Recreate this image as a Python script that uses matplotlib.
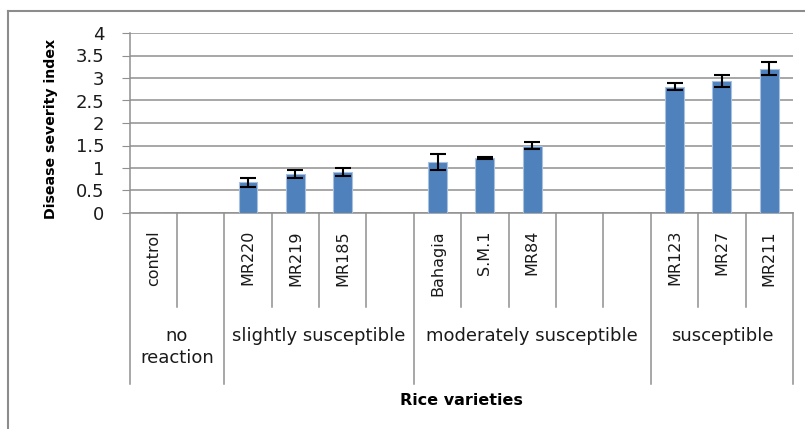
import numpy as np
import matplotlib.pyplot as plt
from matplotlib.lines import Line2D

plt.rcParams['font.family'] = ['DejaVu Sans']

# one slot per variety, empty slots separate the reaction groups
varieties = ['control', '', 'MR220', 'MR219', 'MR185', '',
             'Bahagia', 'S.M.1', 'MR84', '', '',
             'MR123', 'MR27', 'MR211']
severity = [0, np.nan, 0.68, 0.86, 0.91, np.nan,
            1.13, 1.22, 1.50, np.nan, np.nan,
            2.81, 2.94, 3.21]
errors = [0, np.nan, 0.10, 0.09, 0.09, np.nan,
          0.18, 0.02, 0.08, np.nan, np.nan,
          0.075, 0.13, 0.145]

groups = ['no\nreaction', 'slightly susceptible', 'moderately susceptible', 'susceptible']
group_edges = [0, 2, 6, 11, 14]

W, H = 805, 429
fig = plt.figure(figsize=(W / 100, H / 100), dpi=100)
ax = fig.add_axes([129.5 / W, 1 - 213 / H, (793 - 129.5) / W, 180 / H])

grey = '#909090'
x = np.arange(len(varieties)) + 0.5
sev = np.array(severity, dtype=float)
err = np.array(errors, dtype=float)

ax.bar(x, np.nan_to_num(sev), width=0.4, color='#4f81bd',
       edgecolor='#a9c1de', linewidth=0.8, zorder=3)
m = err > 0
ax.errorbar(x[m], sev[m], yerr=err[m], fmt='none', ecolor='black',
            elinewidth=1.5, capsize=5.5, capthick=1.5, zorder=4)

ax.set_xlim(0, len(varieties))
ax.set_ylim(0, 4)
ax.set_yticks(np.arange(0, 4.01, 0.5))
ax.set_yticklabels(['0', '0.5', '1', '1.5', '2', '2.5', '3', '3.5', '4'])
ax.tick_params(axis='y', direction='out', length=6, color=grey,
               labelsize=13, pad=12, labelcolor='#1a1a1a')
ax.set_xticks([])
ax.yaxis.grid(True, color=grey, linewidth=1.1)
ax.set_axisbelow(True)
for s in ['top', 'right']:
    ax.spines[s].set_visible(False)
for s in ['left', 'bottom']:
    ax.spines[s].set_color(grey)
    ax.spines[s].set_linewidth(1.1)

# two-level category axis below the plot
tr = ax.get_xaxis_transform()
for b in range(len(varieties) + 1):
    depth = -0.95 if b in group_edges else -0.522
    ax.add_line(Line2D([b, b], [0, depth], transform=tr, color=grey,
                       linewidth=1.1, clip_on=False))
for xi, name in zip(x, varieties):
    if name:
        ax.text(xi, -0.095, name, transform=tr, rotation=90, ha='center',
                va='top', fontsize=11.5, color='#1a1a1a')
for g, a, b in zip(groups, group_edges[:-1], group_edges[1:]):
    ax.text((a + b) / 2, -0.635, g, transform=tr, ha='center', va='top',
            fontsize=13, color='#1a1a1a', linespacing=1.25)

ax.text(0.5, -1.04, 'Rice varieties', transform=ax.transAxes, ha='center',
        va='center', fontsize=11.5, fontweight='bold')
fig.text(51 / W, 1 - 129 / H, 'Disease severity index', rotation=90,
         ha='center', va='center', fontsize=10.2, fontweight='bold')

# chart frame (only the top and left edges fall inside the image)
fig.add_artist(Line2D([8 / W, 8 / W], [0, 1 - 11 / H], color='#8c8c8c', linewidth=1.5))
fig.add_artist(Line2D([8 / W, 1], [1 - 11 / H, 1 - 11 / H], color='#8c8c8c', linewidth=1.5))

fig.savefig('out.png', dpi=100)
